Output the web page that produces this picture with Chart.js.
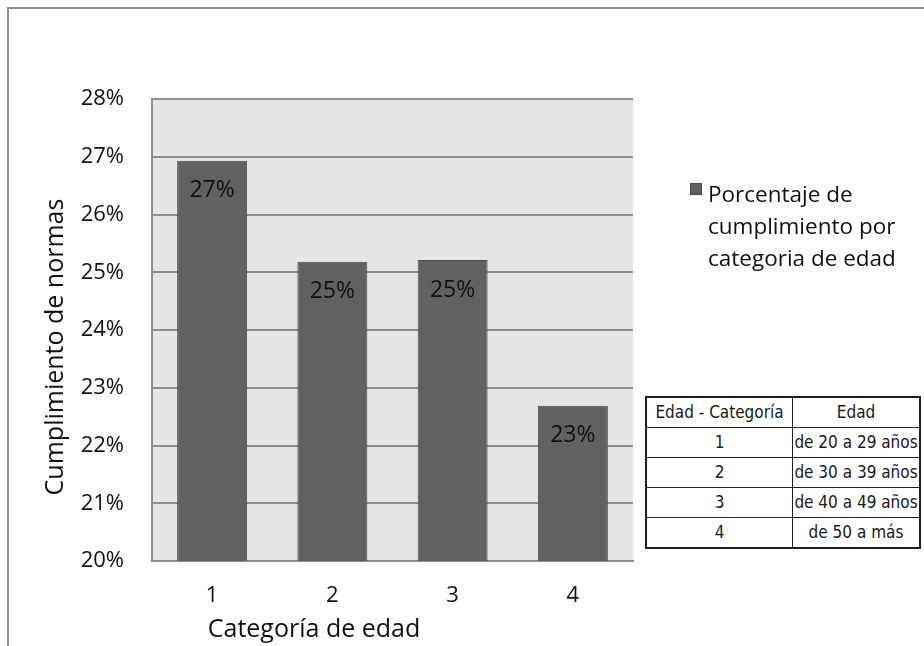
<!DOCTYPE html>
<html lang="es">
<head>
<meta charset="utf-8">
<title>Cumplimiento de normas por categoría de edad</title>
<script src="https://cdn.jsdelivr.net/npm/chart.js@4.4.1/dist/chart.umd.min.js"></script>
<style>
  html, body { margin: 0; padding: 0; background: #ffffff; }
  #wrap { position: relative; width: 924px; height: 646px; overflow: hidden; }
  #frame {
    position: absolute; left: 7px; top: 7px; width: 1000px; height: 1000px;
    border-left: 2px solid #8e8e8e; border-top: 2px solid #8e8e8e;
    box-sizing: border-box;
  }
  canvas#chart { position: absolute; left: 0; top: 0; }
  table#ages {
    position: absolute; left: 645px; top: 396px; width: 276px;
    border-collapse: collapse; border: 2px solid #1e1e1e;
    font-family: "Liberation Sans Narrow", "DejaVu Sans Condensed", "Liberation Sans", sans-serif;
    font-size: 17px; color: #1a1a1a; background: #fff;
  }
  table#ages td, table#ages th {
    border: 1.5px solid #1e1e1e; height: 29px; padding: 0; text-align: center;
    font-weight: normal; line-height: 29px;
  }
  table#ages .c1 { width: 145px; }
</style>
</head>
<body>
<div id="wrap">
  <div id="frame"></div>
  <canvas id="chart" width="924" height="646"></canvas>
  <table id="ages"></table>
</div>
<script>
// Age categories and compliance percentage for each one
const categories = ['1', '2', '3', '4'];
const compliance = [26.93, 25.18, 25.21, 22.69];
const seriesLabel = 'Porcentaje de cumplimiento por categoria de edad';
const legendLines = ['Porcentaje de', 'cumplimiento por', 'categoria de edad'];
const yTicks = [20, 21, 22, 23, 24, 25, 26, 27, 28];
const xTitle = 'Categoría de edad';
const yTitle = 'Cumplimiento de normas';

// Reference table of age ranges
const tableHeader = ['Edad - Categoría', 'Edad'];
const tableCategories = ['1', '2', '3', '4'];
const tableRanges = ['de 20 a 29 años', 'de 30 a 39 años', 'de 40 a 49 años', 'de 50 a más'];

const FONT = '"Open Sans", "Noto Sans", sans-serif';
const BAR_FILL = '#616161';
const GRID = '#8e8e8e';

// build the side table
(function buildTable() {
  const t = document.getElementById('ages');
  const head = document.createElement('tr');
  tableHeader.forEach((h, i) => {
    const th = document.createElement('th');
    th.textContent = h;
    if (i === 0) th.className = 'c1';
    head.appendChild(th);
  });
  t.appendChild(head);
  tableCategories.forEach((c, i) => {
    const tr = document.createElement('tr');
    const a = document.createElement('td'); a.textContent = c; a.className = 'c1';
    const b = document.createElement('td'); b.textContent = tableRanges[i];
    tr.appendChild(a); tr.appendChild(b);
    t.appendChild(tr);
  });
})();

// grey plot background
const plotBackground = {
  id: 'plotBackground',
  beforeDraw(chart) {
    const { ctx, chartArea: a } = chart;
    ctx.save();
    ctx.fillStyle = '#e6e6e6';
    ctx.fillRect(a.left, a.top, a.right - a.left, a.bottom - a.top);
    ctx.restore();
  }
};

// value labels inside the top of each bar
const barValues = {
  id: 'barValues',
  afterDatasetsDraw(chart) {
    const { ctx } = chart;
    const meta = chart.getDatasetMeta(0);
    ctx.save();
    ctx.font = '23px ' + FONT;
    ctx.fillStyle = '#111111';
    ctx.textAlign = 'center';
    ctx.textBaseline = 'middle';
    meta.data.forEach((bar, i) => {
      const v = chart.data.datasets[0].data[i];
      ctx.fillText(Math.round(v) + '%', bar.x, bar.y + 30);
    });
    ctx.restore();
  }
};

// axis titles and the wrapped legend entry
const annotations = {
  id: 'annotations',
  afterDraw(chart) {
    const { ctx } = chart;
    ctx.save();
    ctx.fillStyle = '#111111';
    // x axis title
    ctx.font = '25px ' + FONT;
    ctx.textAlign = 'center';
    ctx.textBaseline = 'alphabetic';
    ctx.fillText(xTitle, 314, 637);
    // y axis title (rotated)
    ctx.save();
    ctx.translate(63, 347);
    ctx.rotate(-Math.PI / 2);
    ctx.fillText(yTitle, 0, 0);
    ctx.restore();
    // legend
    ctx.fillStyle = BAR_FILL;
    ctx.fillRect(690, 183, 12, 12);
    ctx.strokeStyle = '#4a4a4a';
    ctx.lineWidth = 1;
    ctx.strokeRect(690.5, 183.5, 11, 11);
    ctx.fillStyle = '#111111';
    ctx.font = '22.5px ' + FONT;
    ctx.textAlign = 'left';
    legendLines.forEach((line, i) => {
      ctx.fillText(line, 708, 202 + i * 32);
    });
    ctx.restore();
  }
};

new Chart(document.getElementById('chart'), {
  type: 'bar',
  data: {
    labels: categories,
    datasets: [{
      label: seriesLabel,
      data: compliance,
      backgroundColor: BAR_FILL,
      borderColor: '#4d4d4d',
      borderWidth: 1,
      borderSkipped: 'bottom',
      categoryPercentage: 1,
      barPercentage: 0.582
    }]
  },
  options: {
    responsive: false,
    devicePixelRatio: 1,
    animation: false,
    layout: { padding: { left: 0, top: 99, right: 291, bottom: 0 } },
    plugins: {
      legend: { display: false },
      tooltip: { enabled: false },
      title: { display: false }
    },
    scales: {
      x: {
        grid: { display: false, drawTicks: false },
        border: { display: true, color: GRID, width: 2 },
        ticks: { color: '#111111', font: { family: FONT, size: 22 }, padding: 22 },
        afterFit(scale) { scale.height = 85; }
      },
      y: {
        min: 20,
        max: 28,
        afterBuildTicks(scale) { scale.ticks = yTicks.map(v => ({ value: v })); },
        grid: { color: GRID, lineWidth: 2, drawTicks: false },
        border: { display: true, color: GRID, width: 2 },
        ticks: {
          color: '#111111',
          font: { family: FONT, size: 22 },
          padding: 28,
          callback: v => v + '%'
        },
        afterFit(scale) { scale.width = 152; }
      }
    }
  },
  plugins: [plotBackground, barValues, annotations]
});
</script>
</body>
</html>
